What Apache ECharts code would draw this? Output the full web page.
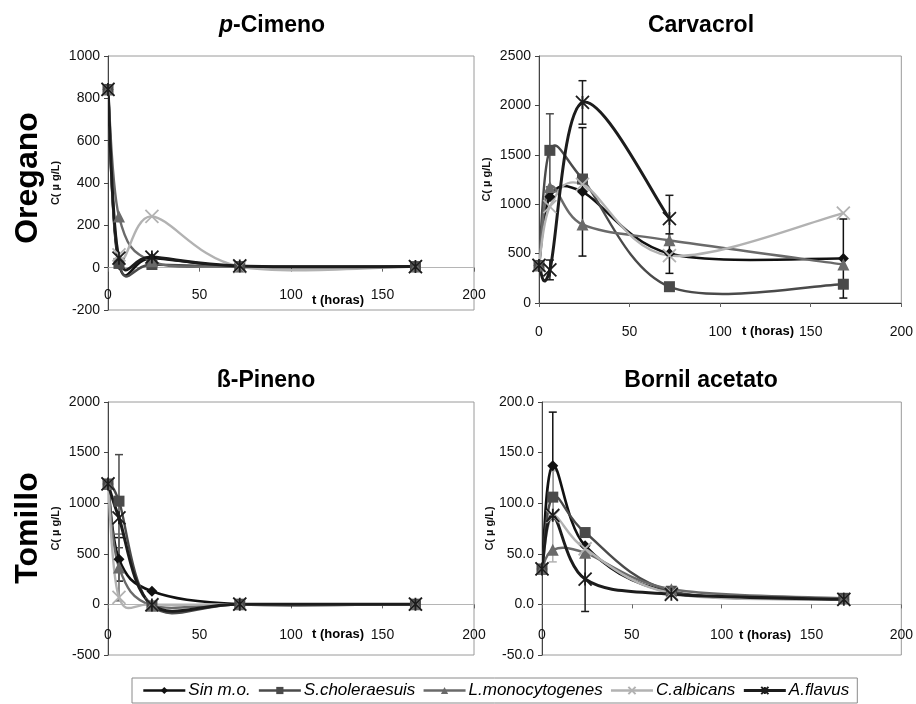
<!DOCTYPE html>
<html>
<head>
<meta charset="utf-8">
<script src="https://cdn.jsdelivr.net/npm/echarts@6/dist/echarts.min.js"></script>
<style>
html, body { margin: 0; padding: 0; background: #fff; }
#chart { width: 916px; height: 704px; }
</style>
</head>
<body>
<div id="chart"></div>
<script>
// Sampling times (hours)
const tiempos = [0, 6, 24, 72, 168];
const organismos = ['Sin m.o.', 'S.choleraesuis', 'L.monocytogenes', 'C.albicans', 'A.flavus'];
const ticksX = { min: 0, max: 200, interval: 50 };

// p-Cimeno (Oregano), µg/L
const cimenoSinMo = [842, 15, 45, 6, 5];
const cimenoSchol = [842, 20, 15, 5, 5];
const cimenoLmono = [842, 242, 30, 5, 5];
const cimenoCalb  = [842, 60, 242, 5, 5];
const cimenoAflav = [842, 45, 50, 8, 5];

// Carvacrol (Oregano), µg/L
const carvSinMo = [380, 1075, 1125, 500, 450];
const carvSchol = [380, 1545, 1255, 165, 190];
const carvLmono = [380, 1175, 795, 635, 390];
const carvCalb  = [380, 975, 1200, 480, 910];
const carvAflav = [380, 335, 2030, 855, null];
const carvErrSinMo = [null, null, 650, 200, 400];
const carvErrSchol = [null, 370, null, null, null];
const carvErrAflav = [null, 100, 220, 235, null];

// ß-Pineno (Tomillo), µg/L
const pinSinMo = [1190, 445, 130, 2, 2];
const pinSchol = [1190, 1020, -15, 2, 2];
const pinLmono = [1190, 365, -10, 2, 2];
const pinCalb  = [1190, 70, 0, 2, 2];
const pinAflav = [1190, 855, -5, 2, 2];
const pinErrSinMo = [null, 215, null, null, null];
const pinErrSchol = [null, 460, null, null, null];
const pinErrLmono = [null, 330, null, null, null];

// Bornil acetato (Tomillo), µg/L
const bornSinMo = [35, 137, 58, 12, 5];
const bornSchol = [35, 106, 71, 13, 6];
const bornLmono = [35, 54, 51, 15, 6];
const bornCalb  = [35, 87, 55, 11, 5];
const bornAflav = [35, 88, 25, 10, 5];
const bornErrSinMo = [null, 53, null, null, null];
const bornErrCalb  = [null, 45, null, null, null];
const bornErrAflav = [null, null, 32, null, null];

// Y axis ranges
const ejeCimeno = { min: -200, max: 1000, interval: 200, dec: 0 };
const ejeCarv   = { min: 0, max: 2500, interval: 500, dec: 0 };
const ejePin    = { min: -500, max: 2000, interval: 500, dec: 0 };
const ejeBorn   = { min: -50, max: 200, interval: 50, dec: 1 };

const NARROW = '"Liberation Sans Narrow", "Liberation Sans", Arial, sans-serif';
const SANS = '"Liberation Sans", Arial, sans-serif';

const estilos = [
  { color: '#111111', symbol: 'diamond', size: 11, width: 2.6, stroke: false },
  { color: '#4a4a4a', symbol: 'rect', size: 11, width: 2.4, stroke: false },
  { color: '#6a6a6a', symbol: 'triangle', size: 12, width: 2.4, stroke: false },
  { color: '#b2b2b2', symbol: 'path://M0,0L10,10M10,0L0,10', size: 13, width: 2.4, stroke: true },
  { color: '#1c1c1c', symbol: 'path://M0,0L10,10M10,0L0,10M5,0L5,10', size: 13, width: 3, stroke: true }
];

const paneles = [
  { grid: { left: 108, top: 56, width: 366, height: 254 }, eje: ejeCimeno, labelMargin: -22,
    valores: [cimenoSinMo, cimenoSchol, cimenoLmono, cimenoCalb, cimenoAflav],
    errores: [null, null, null, null, null] },
  { grid: { left: 539, top: 56, width: 366, height: 247 }, eje: ejeCarv, labelMargin: 22,
    valores: [carvSinMo, carvSchol, carvLmono, carvCalb, carvAflav],
    errores: [carvErrSinMo, carvErrSchol, null, null, carvErrAflav] },
  { grid: { left: 108, top: 402, width: 366, height: 253 }, eje: ejePin, labelMargin: -27,
    valores: [pinSinMo, pinSchol, pinLmono, pinCalb, pinAflav],
    errores: [pinErrSinMo, pinErrSchol, pinErrLmono, null, null] },
  { grid: { left: 542, top: 402, width: 363, height: 253 }, eje: ejeBorn, labelMargin: -27,
    valores: [bornSinMo, bornSchol, bornLmono, bornCalb, bornAflav],
    errores: [bornErrSinMo, null, null, bornErrCalb, bornErrAflav] }
];

// Smoothed curve through the points (cardinal Bezier, 1/6 tangent), one segment per item
function curva(i, vals, e, k) {
  const pts = tiempos.map((t, j) => vals[j] == null ? null : [t, vals[j]]);
  return {
    type: 'custom', xAxisIndex: i, yAxisIndex: i, silent: true, clip: true, z: 2 + k,
    data: tiempos.map((t, j) => [t, vals[j] == null ? 0 : vals[j], j]),
    renderItem(params, api) {
      const j = api.value(2);
      if (!pts[j] || !pts[j + 1]) return null;
      const p1 = api.coord(pts[j]), p2 = api.coord(pts[j + 1]);
      const p0 = pts[j - 1] ? api.coord(pts[j - 1]) : p1;
      const p3 = pts[j + 2] ? api.coord(pts[j + 2]) : p2;
      return {
        type: 'bezierCurve',
        shape: {
          x1: p1[0], y1: p1[1], x2: p2[0], y2: p2[1],
          cpx1: p1[0] + (p2[0] - p0[0]) / 6, cpy1: p1[1] + (p2[1] - p0[1]) / 6,
          cpx2: p2[0] - (p3[0] - p1[0]) / 6, cpy2: p2[1] - (p3[1] - p1[1]) / 6
        },
        style: { stroke: e.color, lineWidth: e.width, fill: 'none', lineCap: 'round' }
      };
    }
  };
}

function barrasError(i, vals, errs, e) {
  return {
    type: 'custom', xAxisIndex: i, yAxisIndex: i, silent: true, z: 1,
    data: tiempos.map((t, j) => errs[j] == null ? null : [t, vals[j], errs[j]]).filter(Boolean),
    renderItem(params, api) {
      const x = api.value(0), y = api.value(1), d = api.value(2);
      const a = api.coord([x, y + d]), b = api.coord([x, y - d]);
      const st = { stroke: e.color, lineWidth: 1.5 };
      return {
        type: 'group', children: [
          { type: 'line', shape: { x1: a[0], y1: a[1], x2: b[0], y2: b[1] }, style: st },
          { type: 'line', shape: { x1: a[0] - 4, y1: a[1], x2: a[0] + 4, y2: a[1] }, style: st },
          { type: 'line', shape: { x1: b[0] - 4, y1: b[1], x2: b[0] + 4, y2: b[1] }, style: st }
        ]
      };
    }
  };
}

const grids = [], xAxes = [], yAxes = [], marcas = [], curvas = [], barras = [];

paneles.forEach((p, i) => {
  grids.push(Object.assign({ show: true, borderColor: '#9a9a9a', borderWidth: 1, backgroundColor: '#fff' }, p.grid));
  xAxes.push({
    type: 'value', gridIndex: i, min: ticksX.min, max: ticksX.max, interval: ticksX.interval,
    axisLine: { onZero: true, lineStyle: { color: i === 1 ? '#333' : '#b5b5b5', width: 1 } },
    axisTick: { show: true, length: 4, lineStyle: { color: '#666' } },
    axisLabel: { margin: p.labelMargin, fontFamily: NARROW, fontSize: 14, color: '#111' },
    splitLine: { show: false }
  });
  yAxes.push({
    type: 'value', gridIndex: i, min: p.eje.min, max: p.eje.max, interval: p.eje.interval,
    name: 'C( µ g/L)', nameLocation: 'middle', nameGap: 47,
    nameTextStyle: { fontFamily: SANS, fontWeight: 'bold', fontSize: 11, color: '#111' },
    axisLine: { show: true, onZero: false, lineStyle: { color: '#444', width: 1 } },
    axisTick: { show: true, length: 4, lineStyle: { color: '#444' } },
    axisLabel: {
      margin: 8, fontFamily: NARROW, fontSize: 14, color: '#111',
      formatter: v => v.toFixed(p.eje.dec)
    },
    splitLine: { show: false }
  });

  p.valores.forEach((vals, k) => {
    const e = estilos[k];
    curvas.push(curva(i, vals, e, k));
    marcas.push({
      type: 'line', name: organismos[k], xAxisIndex: i, yAxisIndex: i,
      data: tiempos.map((t, j) => [t, vals[j]]),
      symbol: e.symbol, symbolSize: e.size,
      lineStyle: { color: e.color, width: 0, opacity: 0 },
      itemStyle: e.stroke
        ? { color: e.color, borderColor: e.color, borderWidth: 1.8 }
        : { color: e.color, borderWidth: 0 },
      emphasis: { disabled: true },
      z: 10 + k
    });
    const errs = p.errores[k];
    if (errs) barras.push(barrasError(i, vals, errs, e));
  });
});

function texto(x, y, contenido, font, extra) {
  return Object.assign({
    type: 'text', x: x, y: y, silent: true,
    style: { text: contenido, font: font, fill: '#000', align: 'center', verticalAlign: 'middle',
             textAlign: 'center', textVerticalAlign: 'middle' }
  }, extra || {});
}

const tituloFont = 'bold 23px ' + SANS;
const horasFont = 'bold 13px ' + NARROW;
const filaFont = 'bold 32px ' + SANS;

const graficos = [
  {
    type: 'text', x: 272, y: 26, silent: true,
    style: {
      text: '{i|p}{n|-Cimeno}', align: 'center', verticalAlign: 'middle',
      textAlign: 'center', textVerticalAlign: 'middle',
      rich: {
        i: { fontFamily: SANS, fontSize: 23, fontWeight: 'bold', fontStyle: 'italic', fill: '#000', color: '#000' },
        n: { fontFamily: SANS, fontSize: 23, fontWeight: 'bold', fill: '#000', color: '#000' }
      }
    }
  },
  texto(701, 26, 'Carvacrol', tituloFont),
  texto(266, 381, 'ß-Pineno', tituloFont),
  texto(701, 381, 'Bornil acetato', tituloFont),
  texto(338, 300, 't (horas)', horasFont),
  texto(768, 331, 't (horas)', horasFont),
  texto(338, 634, 't (horas)', horasFont),
  texto(765, 635, 't (horas)', horasFont),
  texto(28, 178, 'Oregano', filaFont, { rotation: Math.PI / 2 }),
  texto(28, 528, 'Tomillo', filaFont, { rotation: Math.PI / 2 })
];

const leyenda = organismos.map((n, k) => ({
  name: n,
  lineStyle: { color: estilos[k].color, width: estilos[k].width, opacity: 1 }
}));

const chart = echarts.init(document.getElementById('chart'), null, { renderer: 'canvas' });
chart.setOption({
  backgroundColor: '#fff',
  animation: false,
  textStyle: { fontFamily: NARROW },
  grid: grids,
  xAxis: xAxes,
  yAxis: yAxes,
  legend: {
    data: leyenda,
    left: 132, top: 678,
    orient: 'horizontal',
    itemWidth: 42, itemHeight: 9, itemGap: 7,
    padding: [4, 8, 4, 10],
    borderColor: '#8a8a8a', borderWidth: 1, backgroundColor: '#fff',
    textStyle: { fontFamily: SANS, fontStyle: 'italic', fontSize: 17, color: '#000', padding: [0, 0, 0, -2] },
    selectedMode: false
  },
  series: barras.concat(curvas, marcas),
  graphic: graficos
});
</script>
</body>
</html>
